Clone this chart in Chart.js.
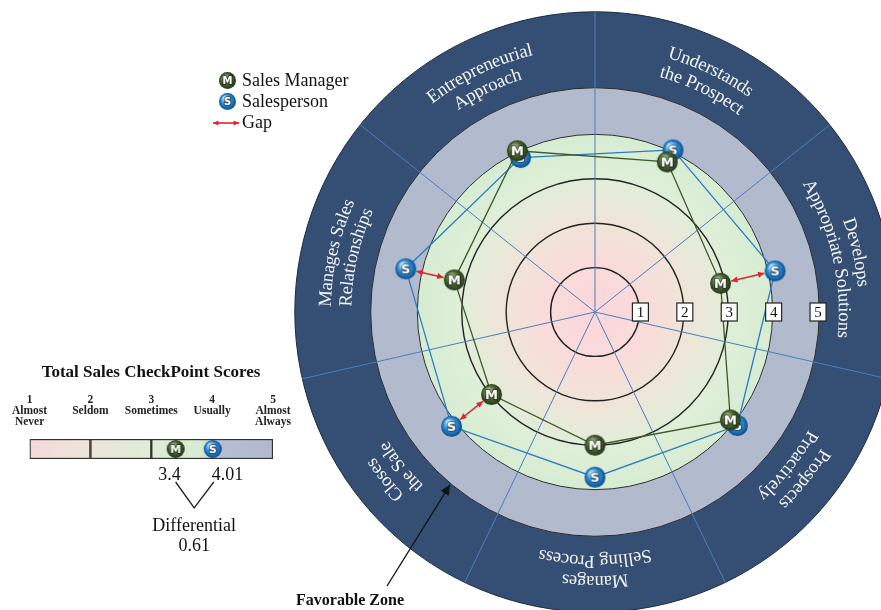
<!DOCTYPE html>
<html>
<head>
<meta charset="utf-8">
<script src="https://cdn.jsdelivr.net/npm/chart.js@4.4.1/dist/chart.umd.min.js"></script>
<style>
  body { margin: 0; width: 881px; height: 610px; overflow: hidden; position: relative; background: #fff; font-family: "Liberation Serif", serif; color: #111; }
  canvas { position: absolute; }
  #radar { left: 0; top: 0; }
  #totals { left: 0; top: 385px; }
  .txt { position: absolute; white-space: nowrap; }
  .legend { font-size: 18px; line-height: 20px; }
  #title { left: 0; width: 302px; top: 362px; text-align: center; font-weight: bold; font-size: 17px; }
  #zone { left: 296px; top: 591px; font-weight: bold; font-size: 16px; }
</style>
</head>
<body>
<canvas id="radar" width="881" height="610"></canvas>
<canvas id="totals" width="310" height="175"></canvas>

<div class="txt legend" id="legM" style="left:242px; top:70px;">Sales Manager</div>
<div class="txt legend" id="legS" style="left:242px; top:91px;">Salesperson</div>
<div class="txt legend" id="legG" style="left:242px; top:112px;">Gap</div>
<div class="txt" id="title">Total Sales CheckPoint Scores</div>
<div class="txt" id="zone">Favorable Zone</div>

<script>
// categories clockwise from the top, one entry per line of the wheel label
const categoryLines = [
  ["Understands", "the Prospect"],
  ["Develops", "Appropriate Solutions"],
  ["Prospects", "Proactively"],
  ["Manages", "Selling Process"],
  ["Closes", "the Sale"],
  ["Manages Sales", "Relationships"],
  ["Entrepreneurial", "Approach"]
];
const categories = categoryLines.map(l => l.join(" "));

const managerScores = [3.75, 2.9, 3.9, 3.0, 2.98, 3.25, 4.03];
const salespersonScores = [4.05, 4.16, 4.1, 3.72, 4.13, 4.37, 3.86];

const ringValues = [1, 2, 3, 4, 5];
const gapThreshold = 1;

// total scores panel
const scoreTicks = [
  ["1", "Almost", "Never"],
  ["2", "Seldom"],
  ["3", "Sometimes"],
  ["4", "Usually"],
  ["5", "Almost", "Always"]
];
const scoreBands = [[1, 2], [2, 3], [3, 5]];
const totalManager = 3.4;
const totalSalesperson = 4.01;

const SERIF = '"Liberation Serif", serif';
Chart.defaults.font.family = SERIF;

// shaded ball marker with a letter on it
function makeMarker(letter, light, mid, dark, r) {
  const c = document.createElement("canvas");
  const s = Math.ceil(r * 2 + 2);
  c.width = c.height = s;
  const g = c.getContext("2d");
  const grad = g.createRadialGradient(s / 2 - r * 0.35, s / 2 - r * 0.45, r * 0.1, s / 2, s / 2, r);
  grad.addColorStop(0, light);
  grad.addColorStop(0.55, mid);
  grad.addColorStop(1, dark);
  g.beginPath();
  g.arc(s / 2, s / 2, r, 0, Math.PI * 2);
  g.fillStyle = grad;
  g.fill();
  g.font = `bold ${Math.round(r * 1.2)}px "DejaVu Sans", sans-serif`;
  g.textAlign = "center";
  g.textBaseline = "middle";
  g.lineWidth = 2;
  g.strokeStyle = "rgba(20,20,20,0.55)";
  g.strokeText(letter, s / 2, s / 2 + 1);
  g.fillStyle = "#fff";
  g.fillText(letter, s / 2, s / 2 + 1);
  return c;
}

const mBig = makeMarker("M", "#a9bd8c", "#4b6a33", "#23361a", 10.5);
const sBig = makeMarker("S", "#c4e9ff", "#2b8fd8", "#0c4c8c", 10.5);
const mSmall = makeMarker("M", "#a9bd8c", "#4b6a33", "#23361a", 9);
const sSmall = makeMarker("S", "#c4e9ff", "#2b8fd8", "#0c4c8c", 9);

function drawArrow(ctx, x1, y1, x2, y2, both, head) {
  const a = Math.atan2(y2 - y1, x2 - x1);
  ctx.beginPath();
  ctx.moveTo(x1, y1);
  ctx.lineTo(x2, y2);
  ctx.stroke();
  const tip = (x, y, ang) => {
    ctx.beginPath();
    ctx.moveTo(x, y);
    ctx.lineTo(x - head * Math.cos(ang - 0.45), y - head * Math.sin(ang - 0.45));
    ctx.lineTo(x - head * Math.cos(ang + 0.45), y - head * Math.sin(ang + 0.45));
    ctx.closePath();
    ctx.fill();
  };
  tip(x2, y2, a);
  if (both) tip(x1, y1, a + Math.PI);
}

// legend icons
function placeIcon(canvas, cx, cy) {
  canvas.style.left = (cx - canvas.width / 2) + "px";
  canvas.style.top = (cy - canvas.height / 2) + "px";
  document.body.appendChild(canvas);
}
placeIcon(makeMarker("M", "#a9bd8c", "#4b6a33", "#23361a", 8.5), 227, 80);
placeIcon(makeMarker("S", "#c4e9ff", "#2b8fd8", "#0c4c8c", 8.5), 227, 101);
const gapIcon = document.createElement("canvas");
gapIcon.width = 30; gapIcon.height = 10;
{
  const g = gapIcon.getContext("2d");
  g.strokeStyle = g.fillStyle = "#e3222b";
  g.lineWidth = 1.6;
  drawArrow(g, 2, 5, 28, 5, true, 6);
}
placeIcon(gapIcon, 226, 123);

// text running round the wheel, letter tops facing outwards
function arcText(ctx, text, cx, cy, rad, theta) {
  const total = ctx.measureText(text).width;
  let a = theta - total / (2 * rad);
  for (const ch of text) {
    const w = ctx.measureText(ch).width;
    const m = a + w / (2 * rad);
    ctx.save();
    ctx.translate(cx + rad * Math.sin(m), cy - rad * Math.cos(m));
    ctx.rotate(m);
    ctx.fillText(ch, 0, 0);
    ctx.restore();
    a += w / rad;
  }
}

const wheelPlugin = {
  id: "wheel",
  beforeDatasetsDraw(chart) {
    const { ctx } = chart;
    const sc = chart.scales.r;
    const cx = sc.xCenter, cy = sc.yCenter;
    const d = v => sc.getDistanceFromCenterForValue(v);
    const disc = (v, fill, stroke, lw) => {
      ctx.beginPath();
      ctx.arc(cx, cy, d(v), 0, Math.PI * 2);
      if (fill) { ctx.fillStyle = fill; ctx.fill(); }
      if (stroke) { ctx.strokeStyle = stroke; ctx.lineWidth = lw; ctx.stroke(); }
    };
    ctx.save();
    disc(6.76, "#344f73", "#1c2a3e", 1);
    disc(5.05, "#b2bbce", "#2b2b2b", 1);

    const grad = ctx.createRadialGradient(cx, cy, 0, cx, cy, d(4));
    grad.addColorStop(0, "#fcd6db");
    grad.addColorStop(0.3, "#f9dcda");
    grad.addColorStop(0.55, "#eee6d8");
    grad.addColorStop(0.78, "#dfefd8");
    grad.addColorStop(1, "#d6edd2");
    disc(4, grad, "#2f2f2f", 1);
    disc(3, null, "#222", 1.4);
    disc(2, null, "#222", 1.4);
    disc(1, null, "#222", 1.4);

    // spokes between the categories
    const half = Math.PI / categories.length;
    ctx.strokeStyle = "#4a7ec0";
    ctx.lineWidth = 1;
    for (let i = 0; i < categories.length; i++) {
      const t = sc.getIndexAngle(i) - half;
      ctx.beginPath();
      ctx.moveTo(cx, cy);
      ctx.lineTo(cx + d(6.76) * Math.sin(t), cy - d(6.76) * Math.cos(t));
      ctx.stroke();
    }

    // category names in the dark ring
    ctx.fillStyle = "#f4f4f4";
    ctx.font = `18.5px ${SERIF}`;
    ctx.textAlign = "center";
    ctx.textBaseline = "middle";
    categoryLines.forEach((lines, i) => {
      const t = sc.getIndexAngle(i);
      arcText(ctx, lines[0], cx, cy, d(6.06), t);
      arcText(ctx, lines[1], cx, cy, d(5.6), t);
    });

    // arrow for the favorable zone note
    const ta = 220 * Math.PI / 180;
    ctx.strokeStyle = ctx.fillStyle = "#111";
    ctx.lineWidth = 1.3;
    drawArrow(ctx, 387, 586, cx + d(5.08) * Math.sin(ta), cy - d(5.08) * Math.cos(ta), false, 11);
    ctx.restore();
  },
  afterDatasetsDraw(chart) {
    const { ctx } = chart;
    const sc = chart.scales.r;
    const cx = sc.xCenter, cy = sc.yCenter;
    ctx.save();
    // gap arrows
    ctx.strokeStyle = ctx.fillStyle = "#e3222b";
    ctx.lineWidth = 1.5;
    managerScores.forEach((m, i) => {
      const s = salespersonScores[i];
      if (s - m < gapThreshold) return;
      const p1 = sc.getPointPositionForValue(i, m);
      const p2 = sc.getPointPositionForValue(i, s);
      const len = Math.hypot(p2.x - p1.x, p2.y - p1.y);
      const ux = (p2.x - p1.x) / len, uy = (p2.y - p1.y) / len;
      drawArrow(ctx, p1.x + ux * 11, p1.y + uy * 11, p2.x - ux * 11, p2.y - uy * 11, true, 7);
    });
    // ring value boxes
    ctx.font = `15px ${SERIF}`;
    ctx.textAlign = "center";
    ctx.textBaseline = "middle";
    ringValues.forEach(v => {
      const x = cx + sc.getDistanceFromCenterForValue(v) + 1;
      ctx.fillStyle = "#fff";
      ctx.fillRect(x - 8, cy - 9, 16, 18);
      ctx.strokeStyle = "#222";
      ctx.lineWidth = 1.2;
      ctx.strokeRect(x - 8, cy - 9, 16, 18);
      ctx.fillStyle = "#111";
      ctx.fillText(String(v), x, cy + 1);
    });
    ctx.restore();
  }
};

new Chart(document.getElementById("radar"), {
  type: "radar",
  data: {
    labels: categories,
    datasets: [
      {
        label: "Sales Manager",
        data: managerScores,
        borderColor: "#3d5a2b",
        borderWidth: 1.3,
        fill: false,
        pointStyle: mBig,
        pointRadius: 10
      },
      {
        label: "Salesperson",
        data: salespersonScores,
        borderColor: "#2a7bc6",
        borderWidth: 1.3,
        fill: false,
        pointStyle: sBig,
        pointRadius: 10
      }
    ]
  },
  options: {
    responsive: false,
    animation: false,
    layout: { padding: { left: 309, right: 0, top: 26, bottom: 12 } },
    plugins: { legend: { display: false }, tooltip: { enabled: false } },
    elements: { line: { tension: 0 } },
    scales: {
      r: {
        min: 0,
        max: 6.44,
        startAngle: 360 / 14,
        ticks: { display: false },
        grid: { display: false },
        angleLines: { display: false },
        pointLabels: { display: false }
      }
    }
  },
  plugins: [wheelPlugin]
});

// total scores bar
function bandGradient(c) {
  const chart = c.chart;
  if (!chart.chartArea) return "#e0e8d8";
  const x = chart.scales.x;
  const g = chart.ctx.createLinearGradient(x.getPixelForValue(1), 0, x.getPixelForValue(5), 0);
  g.addColorStop(0, "#f5dada");
  g.addColorStop(0.25, "#eee3d9");
  g.addColorStop(0.27, "#ece5d7");
  g.addColorStop(0.5, "#e0edd7");
  g.addColorStop(0.7, "#d8ecd3");
  g.addColorStop(0.79, "#b5bed1");
  g.addColorStop(1, "#b0b9ce");
  return g;
}

const totalsNotes = {
  id: "totalsNotes",
  afterDraw(chart) {
    const { ctx } = chart;
    const x = chart.scales.x;
    const xm = x.getPixelForValue(totalManager);
    const xs = x.getPixelForValue(totalSalesperson);
    const apex = (xm + xs) / 2;
    ctx.save();
    ctx.fillStyle = "#111";
    ctx.font = `18px ${SERIF}`;
    ctx.textBaseline = "middle";
    ctx.textAlign = "right";
    ctx.fillText(String(totalManager), xm + 5, 90);
    ctx.textAlign = "left";
    ctx.fillText(String(totalSalesperson), xs - 1, 90);
    ctx.strokeStyle = "#222";
    ctx.lineWidth = 1.3;
    ctx.beginPath();
    ctx.moveTo(xm, 97);
    ctx.lineTo(apex, 123);
    ctx.lineTo(xs + 1, 97);
    ctx.stroke();
    ctx.textAlign = "center";
    ctx.fillText("Differential", apex, 141);
    ctx.fillText((totalSalesperson - totalManager).toFixed(2), apex, 161);
    ctx.restore();
  }
};

new Chart(document.getElementById("totals"), {
  type: "bar",
  data: {
    labels: ["Total"],
    datasets: [
      { type: "line", data: [{ x: totalManager, y: "Total" }], showLine: false, pointStyle: mSmall, pointRadius: 8, clip: false },
      { type: "line", data: [{ x: totalSalesperson, y: "Total" }], showLine: false, pointStyle: sSmall, pointRadius: 8, clip: false },
      ...scoreBands.map(b => ({
        data: [b],
        backgroundColor: bandGradient,
        borderColor: "#333",
        borderWidth: 1.5,
        borderSkipped: false,
        grouped: false,
        barPercentage: 1,
        categoryPercentage: 1
      }))
    ]
  },
  options: {
    indexAxis: "y",
    responsive: false,
    animation: false,
    layout: { padding: { left: 28, right: 37, top: 4, bottom: 101 } },
    plugins: { legend: { display: false }, tooltip: { enabled: false } },
    scales: {
      x: {
        type: "linear",
        position: "top",
        min: 1,
        max: 5,
        grid: { display: false, drawTicks: false },
        border: { display: false },
        afterFit: s => { s.height = 50; },
        ticks: {
          stepSize: 1,
          autoSkip: false,
          maxRotation: 0,
          crossAlign: "far",
          padding: 12,
          color: "#222",
          font: { size: 11.5, weight: "bold", lineHeight: 0.95 },
          callback: v => scoreTicks[v - 1]
        }
      },
      y: { display: false }
    }
  },
  plugins: [totalsNotes]
});
</script>
</body>
</html>
